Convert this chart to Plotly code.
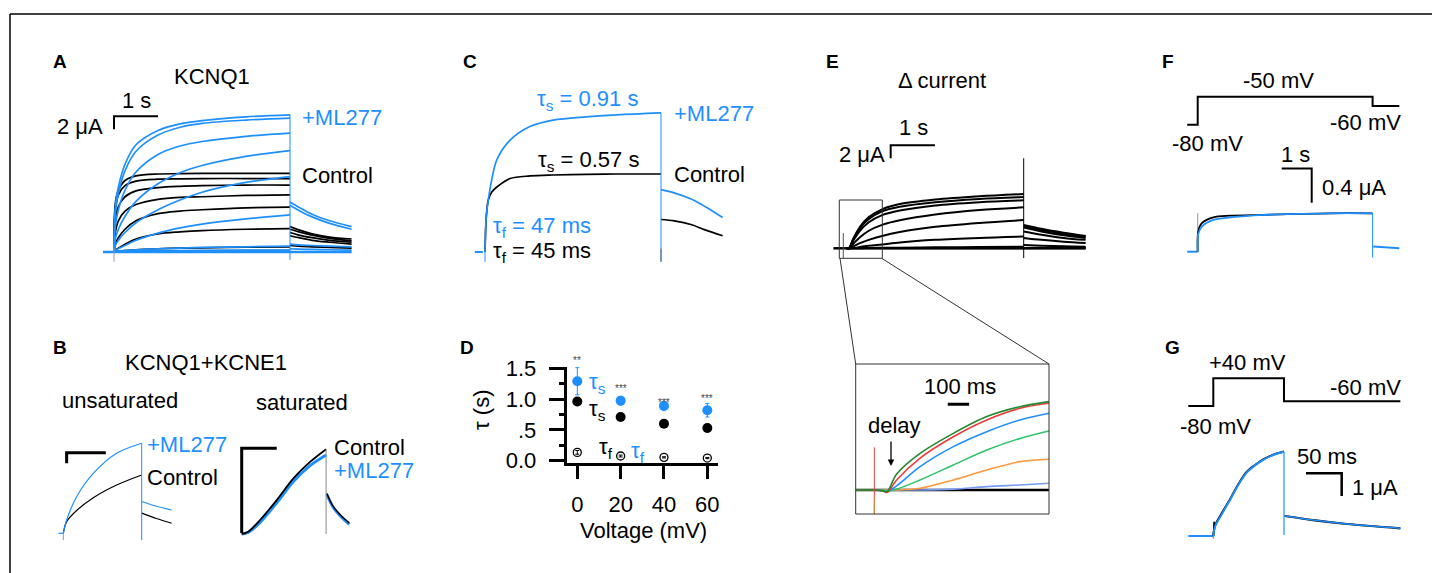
import plotly.graph_objects as go

W, H = 1432, 573
BLUE = "#1e8fff"
FONT = "Liberation Sans, Arial, Helvetica, sans-serif"

# ---------------- data ----------------
# Panel A  (time s, current uA)
A_T = [0, 0.03, 0.1, 0.25, 0.5, 1.0, 1.5, 2.0, 3.0, 4.0]
A_ML277 = [
    [0, 7.0, 10.0, 13.5, 16.5, 18.7, 19.7, 20.2, 20.8, 21.1],
    [0, 6.0, 9.0, 12.5, 15.5, 18.0, 19.2, 19.8, 20.3, 20.6],
    [0, 4.0, 6.5, 9.5, 12.3, 15.0, 16.3, 17.0, 17.8, 18.3],
    [0, 2.0, 3.5, 5.5, 7.8, 10.5, 12.2, 13.3, 14.7, 15.6],
    [0, 1.0, 1.8, 3.0, 4.5, 6.5, 8.0, 9.2, 10.7, 11.6],
    [0, 0.3, 0.5, 1.0, 1.8, 2.9, 3.7, 4.3, 5.1, 5.7],
    [0, 0.1, 0.15, 0.25, 0.35, 0.5, 0.6, 0.7, 0.8, 0.9],
    [0, 0.05, 0.1, 0.1, 0.15, 0.2, 0.2, 0.25, 0.3, 0.3],
]
A_CONTROL = [
    [0, 7.5, 9.5, 11.0, 11.7, 12.0, 12.05, 12.1, 12.1, 12.1],
    [0, 6.5, 8.8, 10.2, 10.9, 11.2, 11.25, 11.3, 11.3, 11.3],
    [0, 5.0, 7.0, 8.5, 9.4, 9.9, 10.1, 10.2, 10.3, 10.3],
    [0, 3.0, 4.8, 6.3, 7.3, 8.1, 8.4, 8.5, 8.7, 8.8],
    [0, 1.2, 2.2, 3.5, 4.8, 5.9, 6.3, 6.5, 6.8, 6.9],
    [0, 0.3, 0.6, 1.2, 2.0, 2.8, 3.1, 3.3, 3.5, 3.6],
    [0, 0.05, 0.1, 0.2, 0.35, 0.5, 0.6, 0.65, 0.75, 0.8],
    [0, 0.0, 0.05, 0.05, 0.1, 0.1, 0.15, 0.15, 0.2, 0.2],
]
A_TAIL_T = [4.0, 4.2, 4.5, 4.9, 5.4]
A_ML277_TAIL = [
    [7.7, 6.9, 5.8, 4.8, 3.9],
    [7.2, 6.4, 5.4, 4.4, 3.5],
    [1.2, 1.1, 1.0, 0.9, 0.8],
    [0.5, 0.45, 0.4, 0.35, 0.3],
]
A_CONTROL_TAIL = [
    [3.9, 3.4, 2.8, 2.3, 2.0],
    [3.5, 3.1, 2.6, 2.1, 1.7],
    [3.0, 2.6, 2.2, 1.8, 1.5],
    [2.5, 2.2, 1.8, 1.5, 1.2],
    [1.0, 0.9, 0.8, 0.7, 0.6],
]
A_SCALE = [1, 2]            # 1 s, 2 uA

# Panel B  (time s, current uA)
BU_T = [0, 0.17, 0.68, 1.53, 2.72, 4.0]
BU_ML277 = [0, 2.5, 6.9, 11.3, 15.1, 17.0]
BU_CONTROL = [0, 2.2, 4.3, 6.7, 9.1, 11.0]
BU_TAIL_T = [4.0, 4.75, 5.53]
BU_ML277_TAIL = [6.0, 5.1, 4.4]
BU_CONTROL_TAIL = [3.8, 2.8, 1.9]
BU_SCALE = [2, 2]
BS_T = [0, 0.31, 0.87, 1.66, 2.45, 3.24, 4.0]
BS_CONTROL = [0, 0.44, 2.64, 6.4, 10.5, 13.6, 16.0]
BS_ML277 = [0, 0.3, 2.2, 5.9, 9.9, 12.9, 14.9]
BS_TAIL_T = [4.03, 4.34, 4.7, 5.1]
BS_CONTROL_TAIL = [7.7, 5.2, 3.5, 2.1]
BS_ML277_TAIL = [7.5, 5.0, 3.3, 1.8]
BS_SCALE = [1.66, 16]

# Panel C
C_T = [0, 0.03, 0.075, 0.15, 0.27, 0.57, 1.02, 1.55, 2.3, 3.0, 4.0]
C_ML277 = [0, 5.5, 8.0, 11.0, 14.2, 17.2, 19.3, 20.3, 20.8, 21.1, 21.4]
C_CONTROL = [0, 5.5, 8.0, 9.2, 10.0, 11.3, 11.7, 11.85, 11.95, 12.0, 12.0]
C_TAIL_T = [4.0, 4.3, 4.7, 5.0, 5.4]
C_ML277_TAIL = [9.6, 9.1, 8.1, 7.0, 5.3]
C_CONTROL_TAIL = [5.0, 4.8, 4.2, 3.4, 2.5]

# Panel D
D_V = [0, 20, 40, 60]
D_TS_ML277 = [1.29, 0.975, 0.89, 0.82]
D_TS_ML277_ERR = [0.22, 0.07, 0.07, 0.11]
D_TS_CONTROL = [0.96, 0.71, 0.60, 0.53]
D_TS_CONTROL_ERR = [0.05, 0.05, 0.06, 0.06]
D_TF = [0.135, 0.076, 0.054, 0.043]
D_TF_ERR = [0.03, 0.015, 0.01, 0.01]
D_STARS = ["**", "***", "***", "***"]
D_YTICKS = [0, 0.5, 1.0, 1.5]
D_YTICKTEXT = ["0.0", ".5", "1.0", "1.5"]

# Panel E
E_T = [0, 0.05, 0.15, 0.3, 0.5, 0.8, 1.2, 2.0, 3.0, 4.0]
E_DELTA = [
    [0, 0, 1.5, 3.3, 4.8, 6.0, 6.8, 7.5, 8.0, 8.35],
    [0, 0, 1.4, 3.1, 4.5, 5.7, 6.4, 7.1, 7.6, 7.9],
    [0, 0, 1.2, 2.7, 4.0, 5.1, 5.8, 6.6, 7.1, 7.4],
    [0, 0, 0.7, 1.7, 2.7, 3.6, 4.3, 5.2, 5.9, 6.3],
    [0, 0, 0.3, 0.8, 1.3, 1.9, 2.5, 3.3, 3.9, 4.35],
    [0, 0, 0.05, 0.2, 0.4, 0.6, 0.9, 1.3, 1.6, 1.8],
    [0, 0, 0, 0.02, 0.05, 0.08, 0.1, 0.15, 0.2, 0.25],
    [0, 0, 0, 0, 0, 0, 0, 0, 0, 0],
]
E_TAIL_T = [4.0, 4.4, 4.9, 5.4]
E_DELTA_TAIL = [
    [3.6, 3.0, 2.4, 1.9],
    [3.4, 2.8, 2.2, 1.8],
    [3.2, 2.6, 2.0, 1.6],
    [2.6, 2.1, 1.6, 1.3],
    [1.6, 1.3, 1.0, 0.8],
    [0.5, 0.4, 0.3, 0.25],
    [0, 0, 0, 0],
]
E_SCALE = [1, 2]
EI_T = [-0.087, 0.0, 0.04, 0.06, 0.105, 0.215, 0.371, 0.528, 0.684, 0.82]
EI_TRACES = [
    [0, 0, 0, 0, 0, 0, 0, 0, 0, 0],
    [0, 0, 0, 0, 0, 0, 0.05, 0.2, 0.3, 0.4],
    [0, 0, 0, 0, 0, 0.1, 0.6, 1.19, 1.69, 1.83],
    [0, 0, 0, -0.05, 0.05, 0.6, 1.49, 2.38, 3.07, 3.51],
    [0, 0, -0.05, -0.1, 0.25, 1.39, 2.58, 3.47, 4.17, 4.57],
    [0, 0, -0.05, -0.15, 0.6, 1.9, 3.17, 4.17, 4.86, 5.16],
    [0, 0, -0.05, -0.1, 0.95, 2.18, 3.37, 4.37, 4.96, 5.26],
]
EI_COLORS = ["#000000", "#7a9cf5", "#ff9a3c", "#2ec46a", "#1e8fff", "#f03c3c", "#1f8a2e"]
EI_SCALE = [0.1]

# Panel F
F_PROT_T = [-0.35, 0, 0, 5.83, 5.83, 6.72]
F_PROT_V = [-80, -80, -50, -50, -60, -60]
F_T = [0, 0.02, 0.13, 0.52, 1.08, 2.19, 3.3, 4.41, 5.83]
F_ML277 = [0, 0.21, 0.29, 0.37, 0.40, 0.43, 0.44, 0.448, 0.448]
F_CONTROL = [0, 0.24, 0.33, 0.40, 0.42, 0.43, 0.44, 0.448, 0.448]
F_TAIL_T = [5.85, 6.72]
F_TAIL = [0.06, 0.04]
F_SCALE = [1, 0.4]

# Panel G  (time ms)
G_PROT_T = [-35, 0, 0, 99, 99, 262]
G_PROT_V = [-80, -80, 40, 40, -60, -60]
G_T = [0, 2.4, 11.7, 23.4, 35, 46.7, 58, 70, 84, 99]
G_ML277 = [0, 0.41, 0.95, 1.59, 2.25, 2.79, 3.1, 3.35, 3.57, 3.71]
G_CONTROL = [0, 0.45, 1.0, 1.62, 2.28, 2.82, 3.12, 3.38, 3.58, 3.72]
G_TAIL_T = [100, 140, 187, 262]
G_TAIL = [0.88, 0.70, 0.53, 0.34]
G_SCALE = [50, 1]

# ---------------- figure helpers ----------------
fig = go.Figure()
_n = [0]


def axes(L, R, T, B, x0, sx, y0, sy):
    _n[0] += 1
    s = "" if _n[0] == 1 else str(_n[0])
    fig.update_layout(**{
        f"xaxis{s}": dict(domain=[L / W, R / W], range=[(L - x0) / sx, (R - x0) / sx],
                          visible=False, anchor=f"y{s}", fixedrange=True),
        f"yaxis{s}": dict(domain=[1 - B / H, 1 - T / H], range=[(y0 - B) / sy, (y0 - T) / sy],
                          visible=False, anchor=f"x{s}", fixedrange=True),
    })
    return f"x{s}", f"y{s}"


def line(ax, x, y, color="black", width=1.5, shape="spline"):
    fig.add_trace(go.Scatter(x=x, y=y, mode="lines",
                             line=dict(color=color, width=width, shape=shape, smoothing=0.9),
                             xaxis=ax[0], yaxis=ax[1], hoverinfo="skip", showlegend=False))


def txt(px, py, s, size=22, color="black", xanchor="center", bold=False, angle=0):
    fig.add_annotation(x=px / W, y=1 - py / H, xref="paper", yref="paper",
                       text=f"<b>{s}</b>" if bold else s, showarrow=False,
                       font=dict(size=size, color=color, family=FONT),
                       xanchor=xanchor, yanchor="middle", textangle=angle)


def seg(x1, y1, x2, y2, color="black", width=1.5):
    fig.add_shape(type="line", xref="paper", yref="paper",
                  x0=x1 / W, y0=1 - y1 / H, x1=x2 / W, y1=1 - y2 / H,
                  line=dict(color=color, width=width))


def bar_left(ax, x, y, dx, dy, width=2):
    line(ax, [x, x, x + dx], [y - dy, y, y], width=width, shape="linear")


def bar_right(ax, x, y, dx, dy, width=2):
    line(ax, [x, x + dx, x + dx], [y, y, y - dy], width=width, shape="linear")


# ---------------- Panel A ----------------
axA = axes(100, 362, 100, 262, 114, 44, 252, 6.5)
for tr in A_CONTROL:
    line(axA, A_T, tr, "black", 1.7)
for tr in A_ML277:
    line(axA, A_T, tr, BLUE, 1.7)
for tr in A_CONTROL_TAIL:
    line(axA, A_TAIL_T, tr, "black", 1.7)
for tr in A_ML277_TAIL:
    line(axA, A_TAIL_T, tr, BLUE, 1.7)
line(axA, [-0.25, 0], [0, 0], BLUE, 2.5, "linear")
line(axA, [0, 5.4], [0, 0], BLUE, 2.5, "linear")
line(axA, [4, 4], [-1.2, max(A_ML277[0])], BLUE, 1, "linear")
line(axA, [0, 0], [-1.5, 0.6], "#8a9bb0", 1, "linear")
bar_left(axA, 0, 20.9, A_SCALE[0], A_SCALE[1], 2)
txt(60, 62, "A", 19, bold=True)
txt(212, 76, "KCNQ1")
txt(136, 100, "1 s")
txt(105, 126, "2 μA", xanchor="right")
txt(300, 117, "+ML277", color=BLUE, xanchor="left")
txt(300, 176, "Control", xanchor="left")

# ---------------- Panel B ----------------
axBU = axes(45, 180, 440, 548, 63.3, 19.6, 533.3, 5.3)
line(axBU, BU_T, BU_CONTROL, "black", 1.2)
line(axBU, BU_T, BU_ML277, BLUE, 1.2)
line(axBU, BU_TAIL_T, BU_CONTROL_TAIL, "black", 1.2)
line(axBU, BU_TAIL_T, BU_ML277_TAIL, BLUE, 1.2)
line(axBU, [-0.25, 0], [0, 0], BLUE, 1.2, "linear")
line(axBU, [0, 0], [-1.3, 0], "#8a9bb0", 1, "linear")
line(axBU, [4, 4], [-1.3, max(BU_ML277)], BLUE, 1, "linear")
bar_left(axBU, 0.17, 15.2, BU_SCALE[0], BU_SCALE[1], 3)

axBS = axes(225, 360, 440, 548, 241.7, 21.1, 534, 5.3)
line(axBS, BS_T, BS_ML277, BLUE, 3)
line(axBS, BS_T, BS_CONTROL, "black", 1.8)
line(axBS, BS_TAIL_T, BS_ML277_TAIL, BLUE, 3)
line(axBS, BS_TAIL_T, BS_CONTROL_TAIL, "black", 1.5)
line(axBS, [4, 4], [0, max(BS_CONTROL)], "#888888", 1, "linear")
bar_left(axBS, 0, 16.2, BS_SCALE[0], BS_SCALE[1], 3)

txt(60, 347, "B", 19, bold=True)
txt(206, 363, "KCNQ1+KCNE1")
txt(120, 400, "unsaturated")
txt(302, 402, "saturated")
txt(145, 444, "+ML277", color=BLUE, xanchor="left")
txt(145, 477, "Control", xanchor="left")
txt(332, 447, "Control", xanchor="left")
txt(332, 470, "+ML277", color=BLUE, xanchor="left")

# ---------------- Panel C ----------------
axC = axes(470, 735, 100, 262, 485, 44, 252, 6.5)
line(axC, C_T, C_CONTROL, "black", 1.7)
line(axC, C_T, C_ML277, BLUE, 1.7)
line(axC, C_TAIL_T, C_CONTROL_TAIL, "black", 1.7)
line(axC, C_TAIL_T, C_ML277_TAIL, BLUE, 1.7)
line(axC, [-0.23, -0.05], [0, 0], BLUE, 2, "linear")
line(axC, [0, 0], [-1.5, 0], BLUE, 1, "linear")
line(axC, [4, 4], [-1.5, max(C_ML277)], BLUE, 1, "linear")
line(axC, [4, 4], [-1.5, 0.5], "#666666", 1, "linear")
txt(470, 62, "C", 19, bold=True)
txt(587, 100, "τ<sub>s</sub> = 0.91 s", color=BLUE)
txt(672, 113, "+ML277", color=BLUE, xanchor="left")
txt(588, 161, "τ<sub>s</sub> = 0.57 s")
txt(672, 174, "Control", xanchor="left")
txt(491, 227, "τ<sub>f</sub> = 47 ms", color=BLUE, xanchor="left")
txt(491, 252, "τ<sub>f</sub> = 45 ms", xanchor="left")

# ---------------- Panel D ----------------
_n[0] += 1
sD = str(_n[0])
x0D, sxD, y0D, syD = 577.3, 2.167, 460.7, 61.6
LD, RD, TD, BD = 566.7, 718.3, 366.7, 463.3
fig.update_layout(**{
    f"xaxis{sD}": dict(domain=[LD / W, RD / W], range=[(LD - x0D) / sxD, (RD - x0D) / sxD],
                       anchor=f"y{sD}", showline=True, linewidth=3, linecolor="black",
                       ticks="outside", ticklen=13, tickwidth=3, tickcolor="black",
                       tickvals=D_V, tickfont=dict(size=22, family=FONT, color="black"),
                       ticklabelstandoff=6, showgrid=False, zeroline=False, fixedrange=True),
    f"yaxis{sD}": dict(domain=[1 - BD / H, 1 - TD / H], range=[(y0D - BD) / syD, (y0D - TD) / syD],
                       anchor=f"x{sD}", showline=True, linewidth=3, linecolor="black",
                       ticks="outside", ticklen=15, tickwidth=3, tickcolor="black",
                       tickvals=D_YTICKS, ticktext=D_YTICKTEXT,
                       tickfont=dict(size=22, family=FONT, color="black"),
                       minor=dict(tickvals=[0.25, 0.75, 1.25], ticklen=5, tickwidth=3,
                                  ticks="outside", tickcolor="black"),
                       ticklabelstandoff=8, showgrid=False, zeroline=False, fixedrange=True),
})
axD = (f"x{sD}", f"y{sD}")
fig.add_trace(go.Scatter(x=D_V, y=D_TF, mode="markers", xaxis=axD[0], yaxis=axD[1],
                         marker=dict(symbol="circle-open", size=8, color="black", line=dict(width=1.3)),
                         error_y=dict(type="data", array=D_TF_ERR, color="black", thickness=1, width=2),
                         hoverinfo="skip", showlegend=False, cliponaxis=False))
fig.add_trace(go.Scatter(x=D_V, y=D_TS_CONTROL, mode="markers", xaxis=axD[0], yaxis=axD[1],
                         marker=dict(symbol="circle", size=10, color="black"),
                         error_y=dict(type="data", array=D_TS_CONTROL_ERR, color="black", thickness=1, width=2),
                         hoverinfo="skip", showlegend=False, cliponaxis=False))
fig.add_trace(go.Scatter(x=D_V, y=D_TS_ML277, mode="markers", xaxis=axD[0], yaxis=axD[1],
                         marker=dict(symbol="circle", size=10, color=BLUE),
                         error_y=dict(type="data", array=D_TS_ML277_ERR, color=BLUE, thickness=1, width=2),
                         hoverinfo="skip", showlegend=False, cliponaxis=False))
star_y = [360.5, 388.3, 402.7, 398.3]
for v, s, yy in zip(D_V, D_STARS, star_y):
    txt(x0D + v * sxD, yy, s, 10, color="#444444")
txt(467, 347, "D", 19, bold=True)
txt(587, 383, "τ<sub>s</sub>", color=BLUE, xanchor="left")
txt(587, 410, "τ<sub>s</sub>", xanchor="left")
txt(597, 448, "τ<sub>f</sub>", xanchor="left")
txt(629, 452, "τ<sub>f</sub>", color=BLUE, xanchor="left")
txt(643, 530, "Voltage (mV)")
txt(481, 410, "τ (s)", angle=-90)

# ---------------- Panel E ----------------
axE = axes(830, 1092, 135, 262, 846.7, 44.25, 248.3, 6.5)
for tr in E_DELTA:
    line(axE, E_T, tr, "black", 2)
for tr in E_DELTA_TAIL:
    line(axE, E_TAIL_T, tr, "black", 2)
line(axE, [-0.3, 0], [0, 0], "black", 2.5, "linear")
line(axE, [0, 5.4], [0, 0], "black", 2.5, "linear")
line(axE, [4, 4], [-1.5, 13.85], "black", 1, "linear")
line(axE, [-0.077, -0.077], [-1.5, 2.35], "#555555", 1, "linear")
bar_left(axE, 0.994, 15.85, E_SCALE[0], E_SCALE[1], 2)
txt(832, 62, "E", 19, bold=True)
txt(942, 81, "Δ current")
txt(913, 128, "1 s")
txt(887, 154, "2 μA", xanchor="right")
# zoom box + connectors
fig.add_shape(type="rect", xref="paper", yref="paper", x0=839.3 / W, x1=882.3 / W,
              y0=1 - 258.3 / H, y1=1 - 200 / H, line=dict(color="#333333", width=1))
seg(840, 258.3, 855.7, 364, "#333333", 1)
seg(881.7, 258.3, 1049, 364, "#333333", 1)
fig.add_shape(type="rect", xref="paper", yref="paper", x0=855.7 / W, x1=1049 / W,
              y0=1 - 514 / H, y1=1 - 364 / H, line=dict(color="#333333", width=1))

axEI = axes(855.7, 1049, 364, 514, 874.3, 213, 490, 16.8)
for tr, col in zip(EI_TRACES, EI_COLORS):
    line(axEI, EI_T, tr, col, 2.5 if col == "#000000" else 1.6)
line(axEI, [0, 0], [-1.5, 2.54], "#f03c3c", 1, "linear")
line(axEI, [0, 0], [-1.5, -0.6], "#d08a30", 1, "linear")
line(axEI, [0.345, 0.345 + EI_SCALE[0]], [5.1, 5.1], "black", 3, "linear")
txt(960, 386, "100 ms")
txt(894, 425, "delay")
fig.add_annotation(x=891 / W, y=1 - 466 / H, xref="paper", yref="paper", ax=0, ay=-26,
                   showarrow=True, arrowhead=2, arrowsize=1, arrowwidth=1.3, arrowcolor="black", text="")

# ---------------- Panel F ----------------
axFV = axes(1180, 1410, 85, 135, 1197.7, 30, 50, 0.933)
line(axFV, F_PROT_T, F_PROT_V, "black", 2, "linear")
axF = axes(1180, 1410, 150, 262, 1197.7, 30, 251.7, 85.75)
line(axF, [-0.35, 0], [0, 0], BLUE, 2, "linear")
line(axF, [0, 0], [0, 0.45], "#999999", 1, "linear")
line(axF, F_T, F_CONTROL, "black", 1.8)
line(axF, F_T, F_ML277, BLUE, 1.8)
line(axF, [5.83, 5.83], [-0.07, 0.45], BLUE, 1, "linear")
line(axF, F_TAIL_T, F_TAIL, BLUE, 2, "linear")
bar_right(axF, 2.8, 0.97, F_SCALE[0], F_SCALE[1], 2)
txt(1168, 62, "F", 19, bold=True)
txt(1278, 81, "-50 mV")
txt(1207, 143, "-80 mV")
txt(1365, 123, "-60 mV")
txt(1295, 154, "1 s")
txt(1320, 187, "0.4 μA", xanchor="left")

# ---------------- Panel G ----------------
axGV = axes(1180, 1410, 365, 415, 1213.3, 0.714, 387.5, 0.231)
line(axGV, G_PROT_T, G_PROT_V, "black", 2, "linear")
axG = axes(1180, 1410, 440, 548, 1213.3, 0.714, 536, 22.7)
line(axG, [-35, 0], [0, 0], BLUE, 2, "linear")
line(axG, [0, 0], [-0.12, 0.15], BLUE, 1, "linear")
line(axG, [0.3, 1.0, 2.4], [0, 0.63, 0.41], "black", 1.5, "linear")
line(axG, G_T, G_CONTROL, "black", 2)
line(axG, G_T, G_ML277, BLUE, 2)
line(axG, [99, 99], [0.04, max(G_ML277)], BLUE, 1.2, "linear")
line(axG, G_TAIL_T, G_TAIL, "black", 2.2)
line(axG, G_TAIL_T, G_TAIL, BLUE, 1.5)
bar_right(axG, 129.8, 2.76, G_SCALE[0], G_SCALE[1], 2.5)
txt(1172, 347, "G", 19, bold=True)
txt(1247, 363, "+40 mV")
txt(1215, 426, "-80 mV")
txt(1365, 387, "-60 mV")
txt(1327, 456, "50 ms")
txt(1350, 487, "1 μA", xanchor="left")

# ---------------- frame ----------------
seg(10, 14, W, 14, "black", 1.5)
seg(10, 14, 10, H, "black", 1.5)

fig.update_layout(width=W, height=H, margin=dict(l=0, r=0, t=0, b=0, pad=0, autoexpand=False),
                  paper_bgcolor="white", plot_bgcolor="rgba(0,0,0,0)", showlegend=False,
                  font=dict(family=FONT, size=22, color="black"))
fig.write_html("out.html", config={"displayModeBar": False},
               post_script="document.body.style.margin='0';document.body.style.overflow='hidden';")
